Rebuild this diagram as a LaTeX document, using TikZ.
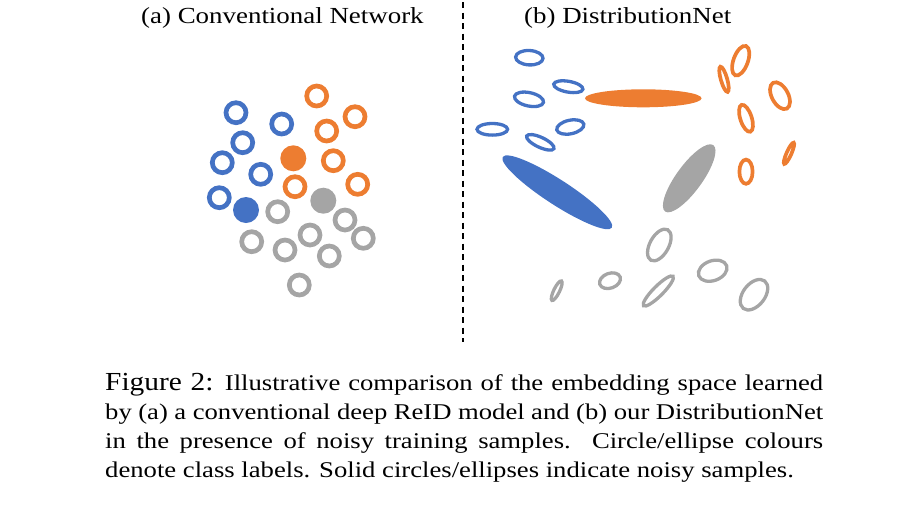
\documentclass[tikz,border=0pt]{standalone}
\usepackage{fontspec}
\setmainfont{Liberation Serif}
\newfontfamily\titlefont[FakeStretch=1.17]{Liberation Serif}
\newfontfamily\capfont[FakeStretch=1.185]{Liberation Serif}
\newfontfamily\figfont[FakeStretch=1.13]{Liberation Serif}
\definecolor{cblue}{HTML}{4472C4}
\definecolor{corange}{HTML}{ED7D31}
\definecolor{cgray}{HTML}{A5A5A5}
\tikzset{
  ringb/.style={draw=cblue, line width=4.7pt},
  ringo/.style={draw=corange, line width=4.7pt},
  ringg/.style={draw=cgray, line width=4.7pt},
  elb/.style={draw=cblue, line width=3.3pt},
  elo/.style={draw=corange, line width=3.7pt},
  elg/.style={draw=cgray, line width=3.3pt},
  title/.style={anchor=base west, inner sep=0pt, font=\titlefont\fontsize{23pt}{27pt}\selectfont},
  capline/.style={anchor=base west, inner sep=0pt, font=\capfont\fontsize{22.5pt}{29pt}\selectfont},
  divider/.style={dash pattern=on 6pt off 4.5pt, line width=2.4pt}
}
\newcommand\myell[6]{\draw[#1, rotate around={#6:(#2,#3)}] (#2,#3) ellipse [x radius=#4pt, y radius=#5pt];}
\newcommand\myfell[6]{\fill[#1, rotate around={#6:(#2,#3)}] (#2,#3) ellipse [x radius=#4pt, y radius=#5pt];}
\begin{document}
\begin{tikzpicture}[x=1pt,y=-1pt]
\useasboundingbox (0,0) rectangle (902,507);
% titles
\node[title] (ta) at (141,23.3) {(a) Conventional Network};
\node[title] (tb) at (524,23) {(b) DistributionNet};
% divider
\coordinate (d1) at (462.7,2);
\coordinate (d2) at (462.7,342);
\draw[divider] (d1) -- (d2);
% left panel: blue rings
\foreach \x/\y in {236/112.7, 281.7/124, 242.7/142.7, 222.3/162.7, 260.7/174.3, 219.3/197.7}
  \draw[ringb] (\x,\y) circle (10pt);
\fill[cblue] (246,210) circle (13pt);
% orange rings
\foreach \x/\y in {316.7/96, 355/116.7, 326.7/131, 333.3/160.7, 295/186.7, 357.7/184.3}
  \draw[ringo] (\x,\y) circle (10pt);
\fill[corange] (293.3,158.3) circle (13pt);
% gray rings
\fill[cgray] (323.3,200.7) circle (13pt);
\foreach \x/\y in {277.7/211.7, 345/220, 363.3/238.3, 310/235, 251.7/241.7, 285/250, 329.3/256, 299.3/285}
  \draw[ringg] (\x,\y) circle (10pt);
% right panel: blue
\myell{elb}{529.3}{57.7}{13.7}{7.2}{-3}
\myell{elb}{568.3}{86.7}{14.8}{5.4}{-10}
\myell{elb}{529}{99.3}{14.8}{6.7}{-12}
\myell{elb}{492.3}{129.3}{15.3}{5.8}{0}
\myell{elb}{570.3}{127}{13.8}{6.8}{12}
\myell{elb}{540.3}{142.3}{15}{5}{-25}
\myfell{cblue}{557.3}{192.3}{65}{12.5}{-33}
% orange
\myfell{corange}{643.3}{98.3}{58.3}{9}{0}
\myell{elo}{740.7}{60.7}{15.6}{7.2}{70}
\myell{elo}{724}{79.3}{13.1}{3.2}{-74}
\myell{elo}{780}{95.7}{14.6}{8.2}{-62}
\myell{elo}{746}{118.3}{14.1}{5.7}{-72}
\myell{elo}{789}{153.3}{11.6}{2.4}{66}
\myell{elo}{746}{171.7}{12.1}{6.6}{90}
% gray
\myfell{cgray}{689.2}{178.3}{41}{13}{54}
\myell{elg}{659.3}{245}{17.4}{9.4}{61}
\myell{elg}{556.7}{290.7}{10.8}{2.9}{64}
\myell{elg}{610}{280.7}{10.8}{7.4}{20}
\myell{elg}{658.3}{291}{20.8}{4.9}{45}
\myell{elg}{712.7}{270.7}{14.8}{9.9}{20}
\myell{elg}{754}{294.7}{17.4}{10.9}{52}
% caption
\node[capline] (c1) at (105,390) {\makebox[718pt][s]{{\figfont\fontsize{26pt}{29pt}\selectfont Figure 2:} Illustrative comparison of the embedding space learned}};
\node[capline] (c2) at (105,419) {\makebox[718pt][s]{by (a) a conventional deep ReID model and (b) our DistributionNet}};
\node[capline] (c3) at (105,448) {\makebox[718pt][s]{in the presence of noisy training samples.\ \ Circle/ellipse colours}};
\node[capline] (c4) at (105,477) {denote class labels. Solid circles/ellipses indicate noisy samples.};
\end{tikzpicture}
\end{document}
